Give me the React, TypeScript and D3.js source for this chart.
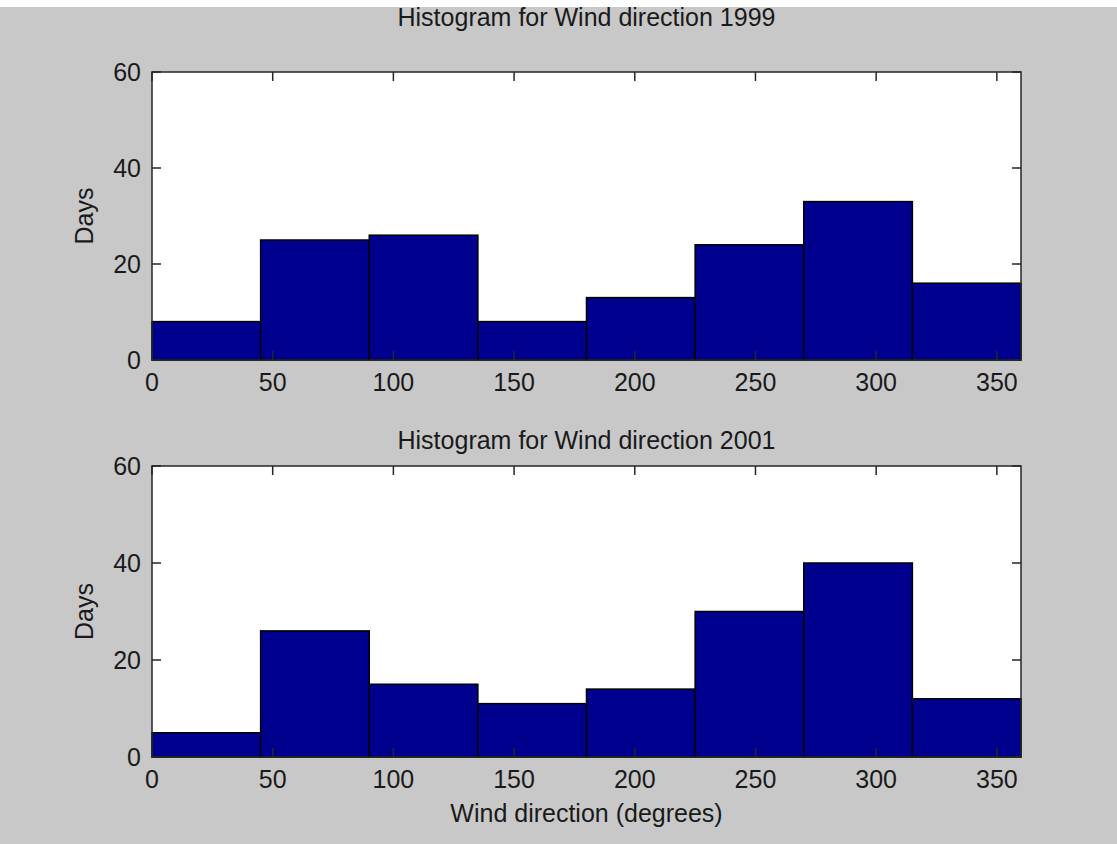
import React from "react";
import * as d3 from "d3";

const binEdges = [0, 45, 90, 135, 180, 225, 270, 315, 360];
const counts1999 = [8, 25, 26, 8, 13, 24, 33, 16];
const counts2001 = [5, 26, 15, 11, 14, 30, 40, 12];
const xTicks = [0, 50, 100, 150, 200, 250, 300, 350];
const yTicks = [0, 20, 40, 60];
const titles = ["Histogram for Wind direction 1999", "Histogram for Wind direction 2001"];

const W = 1117;
const H = 844;
const FONT = "'Liberation Sans', Arial, Helvetica, sans-serif";

function Panel({ top, bottom, counts, title, titleY, xlabel }: { top: number; bottom: number; counts: number[]; title: string; titleY: number; xlabel?: string }) {
  const left = 152;
  const right = 1021;
  const x = d3.scaleLinear().domain([0, 360]).range([left, right]);
  const y = d3.scaleLinear().domain([0, 60]).range([bottom, top]);
  const tl = 9;
  return (
    <g>
      <rect x={left} y={top} width={right - left} height={bottom - top} fill="#ffffff" />
      {counts.map((c, i) => (
        <rect
          key={i}
          x={x(binEdges[i])}
          y={y(c)}
          width={x(binEdges[i + 1]) - x(binEdges[i])}
          height={y(0) - y(c)}
          fill="#00008f"
          stroke="#000000"
          strokeWidth={1.5}
        />
      ))}
      <rect x={left} y={top} width={right - left} height={bottom - top} fill="none" stroke="#262626" strokeWidth={1.5} />
      {xTicks.map((t) => (
        <g key={"x" + t}>
          <line x1={x(t)} x2={x(t)} y1={bottom} y2={bottom - tl} stroke="#262626" strokeWidth={1.5} />
          <line x1={x(t)} x2={x(t)} y1={top} y2={top + tl} stroke="#262626" strokeWidth={1.5} />
          <text x={x(t)} y={bottom + 31} textAnchor="middle" fontSize={25} fontFamily={FONT} fill="#1a1a1a">
            {t}
          </text>
        </g>
      ))}
      {yTicks.map((t) => (
        <g key={"y" + t}>
          <line x1={left} x2={left + tl} y1={y(t)} y2={y(t)} stroke="#262626" strokeWidth={1.5} />
          <line x1={right} x2={right - tl} y1={y(t)} y2={y(t)} stroke="#262626" strokeWidth={1.5} />
          <text x={141} y={y(t)} dy="0.36em" textAnchor="end" fontSize={25} fontFamily={FONT} fill="#1a1a1a">
            {t}
          </text>
        </g>
      ))}
      <text x={(left + right) / 2} y={titleY} textAnchor="middle" fontSize={25} fontFamily={FONT} fill="#1a1a1a">
        {title}
      </text>
      <text
        transform={`translate(93, ${(top + bottom) / 2}) rotate(-90)`}
        textAnchor="middle"
        fontSize={25}
        fontFamily={FONT}
        fill="#1a1a1a"
      >
        Days
      </text>
      {xlabel && (
        <text x={(left + right) / 2} y={bottom + 65} textAnchor="middle" fontSize={25} fontFamily={FONT} fill="#1a1a1a">
          {xlabel}
        </text>
      )}
    </g>
  );
}

export default function App() {
  return (
    <svg width={W} height={H} style={{ position: "absolute", left: 0, top: 0, display: "block" }}>
      <rect x={0} y={0} width={W} height={H} fill="#c8c8c8" />
      <rect x={0} y={0} width={W} height={7} fill="#ffffff" />
      <Panel top={72} bottom={360} counts={counts1999} title={titles[0]} titleY={26} />
      <Panel top={466} bottom={757} counts={counts2001} title={titles[1]} titleY={449} xlabel="Wind direction (degrees)" />
    </svg>
  );
}
